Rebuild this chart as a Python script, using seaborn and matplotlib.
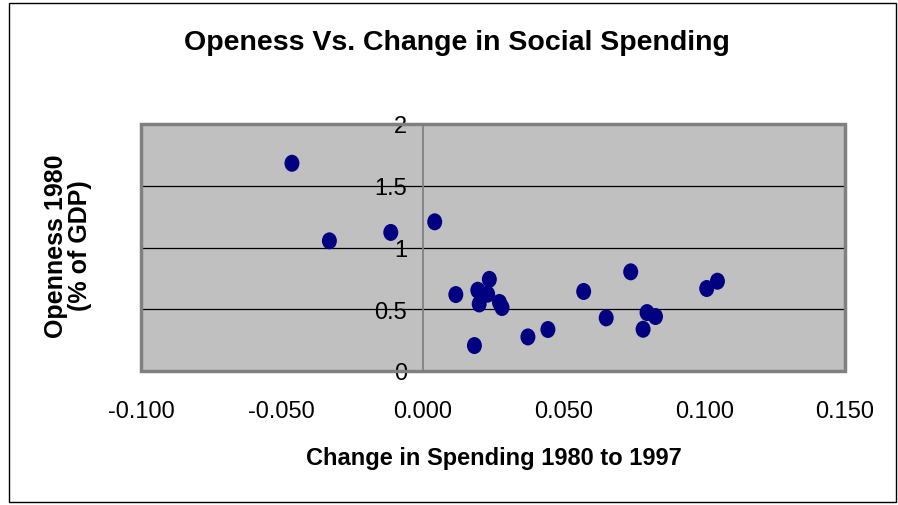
import numpy as np
import pandas as pd
import matplotlib
matplotlib.use('Agg')
import matplotlib.pyplot as plt
from matplotlib.patches import Rectangle
from matplotlib.path import Path
from matplotlib.transforms import Affine2D
import seaborn as sns

# ── data ───────────────────────────────────────────────────
change_spending = [-0.0464, -0.0331, -0.0113, 0.0043, 0.0118, 0.0184, 0.0196,
                   0.0201, 0.0237, 0.0231, 0.0273, 0.0282, 0.0374, 0.0445,
                   0.0572, 0.0652, 0.0739, 0.0797, 0.0827, 0.0783, 0.1009, 0.1047]
openness_1980 = [1.682, 1.054, 1.122, 1.208, 0.619, 0.206, 0.654,
                 0.543, 0.742, 0.622, 0.555, 0.514, 0.276, 0.336,
                 0.644, 0.430, 0.803, 0.473, 0.441, 0.338, 0.668, 0.727]
x_ticks = [-0.100, -0.050, 0.000, 0.050, 0.100, 0.150]
y_ticks = [0, 0.5, 1, 1.5, 2]
y_tick_labels = ['0', '0.5', '1', '1.5', '2']

df = pd.DataFrame({'change': change_spending, 'openness': openness_1980})

sns.set_style('white')
plt.rcParams['font.family'] = ['Liberation Sans', 'DejaVu Sans']
plt.rcParams['text.color'] = 'black'
plt.rcParams['xtick.color'] = 'black'
plt.rcParams['ytick.color'] = 'black'
plt.rcParams['xtick.labelsize'] = 17
plt.rcParams['ytick.labelsize'] = 17

W, H = 898, 506
fig = plt.figure(figsize=(W / 100, H / 100), dpi=100)
ax = fig.add_axes([141 / W, 1 - 372 / H, (845 - 141) / W, (372 - 125) / H])
ax.set_facecolor('#C0C0C0')

# y axis sits at x = 0 (set before the ticks, moving it resets them)
for s in ['top', 'right', 'bottom']:
    ax.spines[s].set_visible(False)
ax.spines['left'].set_position(('data', 0))
ax.spines['left'].set_color('#808080')
ax.spines['left'].set_linewidth(1.3)
ax.spines['left'].set_zorder(3)

# slightly tall oval marker like the original
oval = Path.unit_circle().transformed(Affine2D().scale(0.88, 1.0))
sns.scatterplot(data=df, x='change', y='openness', ax=ax, marker=oval,
                s=150, color='#000080', edgecolor='none', zorder=4)

ax.set_xlim(-0.1, 0.15)
ax.set_ylim(0, 2)
ax.set_xticks(x_ticks)
ax.set_xticklabels([f'{v:.3f}' for v in x_ticks])
ax.set_yticks(y_ticks)
ax.set_yticklabels(y_tick_labels)
ax.set_xlabel('')
ax.set_ylabel('')

ax.yaxis.grid(True, color='black', lw=0.9)
ax.set_axisbelow(True)

ax.tick_params(axis='x', direction='out', length=7, width=1, colors='black',
               labelsize=17, pad=14)
ax.tick_params(axis='y', direction='out', length=5, width=1, colors='black',
               labelsize=17, pad=6)

ax.add_patch(Rectangle((0, 0), 1, 1, transform=ax.transAxes, fill=False,
                       edgecolor='#808080', lw=2.5, clip_on=False, zorder=5))

# titles
fig.text(457 / W, 1 - 43 / H, 'Openess Vs. Change in Social Spending',
         fontsize=20.5, fontweight='bold', ha='center', va='center')
fig.text(494 / W, 1 - 459 / H, 'Change in Spending 1980 to 1997',
         fontsize=17, fontweight='bold', ha='center', va='center')
fig.text(68 / W, 1 - 246 / H, 'Openness 1980\n(% of GDP)', fontsize=18,
         fontweight='bold', ha='center', va='center', rotation=90,
         linespacing=0.95, multialignment='center')

# chart frame
fig.patches.append(Rectangle((9 / W, 1 - 503 / H), 887 / W, 499 / H,
                             transform=fig.transFigure, fill=False,
                             edgecolor='black', lw=1))

fig.savefig('out.png', dpi=100)
